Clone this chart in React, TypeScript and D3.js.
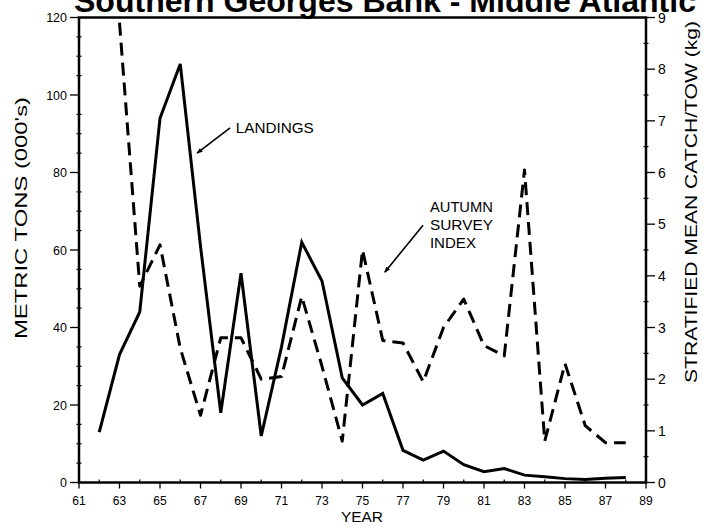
import React from "react";
import * as d3 from "d3";

// Landings (thousands of metric tons), left axis
const landingYears = [62, 63, 64, 65, 66, 67, 68, 69, 70, 71, 72, 73, 74, 75, 76, 77, 78, 79, 80, 81, 82, 83, 84, 85, 86, 87, 88];
const landings = [13, 33, 44, 94, 108, 61, 18, 54, 12, 35, 62, 52, 27, 20, 23, 8.3, 5.8, 8.1, 4.6, 2.8, 3.6, 1.9, 1.5, 1.0, 0.8, 1.1, 1.3];

// Autumn survey index (stratified mean catch/tow, kg), right axis
const surveyYears = [63, 64, 65, 66, 67, 68, 69, 70, 71, 72, 73, 74, 75, 76, 77, 78, 79, 80, 81, 82, 83, 84, 85, 86, 87, 88];
const surveyIndex = [8.9, 3.8, 4.6, 2.6, 1.3, 2.8, 2.8, 2.0, 2.05, 3.6, 2.25, 0.8, 4.5, 2.75, 2.7, 1.95, 3.0, 3.55, 2.65, 2.45, 6.05, 0.8, 2.3, 1.1, 0.77, 0.77];

const yearTicks = [61, 63, 65, 67, 69, 71, 73, 75, 77, 79, 81, 83, 85, 87, 89];
const tonTicks = [0, 20, 40, 60, 80, 100, 120];
const kgTicks = [0, 1, 2, 3, 4, 5, 6, 7, 8, 9];

const W = 703;
const H = 527;
const left = 79;
const right = 646;
const top = 17.5;
const bottom = 482.5;

const FONT = "'Liberation Sans', Arial, sans-serif";

export default function App() {
  const x = d3.scaleLinear().domain([61, 89]).range([left, right]);
  const yL = d3.scaleLinear().domain([0, 120]).range([bottom, top]);
  const yR = d3.scaleLinear().domain([0, 9]).range([bottom, top]);

  const landLine = d3
    .line<number>()
    .x((_, i) => x(landingYears[i]))
    .y((d) => yL(d));
  const surveyLine = d3
    .line<number>()
    .x((_, i) => x(surveyYears[i]))
    .y((d) => yR(d));

  const minorTons = d3.range(5, 120, 5).filter((v) => v % 20 !== 0);
  const minorKg = d3.range(0.5, 9, 0.5).filter((v) => v % 1 !== 0);
  const minorYears = d3.range(62, 89, 2);

  return (
    <svg
      width={W}
      height={H}
      style={{ position: "absolute", left: 0, top: 0, background: "#fff" }}
      fontFamily={FONT}
    >
      <defs>
        <marker id="arrow" viewBox="0 0 10 10" refX="9" refY="5" markerWidth="6" markerHeight="6" orient="auto" markerUnits="userSpaceOnUse">
          <path d="M0,1 L10,5 L0,9 Z" fill="#000" />
        </marker>
      </defs>

      {/* title, partly above the page edge */}
      <text x={385} y={12} textAnchor="middle" fontSize={31} fontWeight="bold" textLength={622} lengthAdjust="spacingAndGlyphs">
        Southern Georges Bank - Middle Atlantic
      </text>

      {/* frame */}
      <rect x={left} y={top} width={right - left} height={bottom - top} fill="none" stroke="#000" strokeWidth={2.5} />

      {/* left axis ticks */}
      {tonTicks.map((t) => (
        <g key={"lt" + t}>
          <line x1={left - 9} x2={left} y1={yL(t)} y2={yL(t)} stroke="#000" strokeWidth={1.3} />
          <text x={left - 12} y={yL(t) + 4.5} textAnchor="end" fontSize={12.5}>
            {t}
          </text>
        </g>
      ))}
      {minorTons.map((t) => (
        <line key={"lm" + t} x1={left - 2.5} x2={left + 2.5} y1={yL(t)} y2={yL(t)} stroke="#000" strokeWidth={1.2} />
      ))}

      {/* right axis ticks */}
      {kgTicks.map((t) => (
        <g key={"rt" + t}>
          <line x1={right} x2={right + 9} y1={yR(t)} y2={yR(t)} stroke="#000" strokeWidth={1.3} />
          <text x={right + 12} y={yR(t) + 5} textAnchor="start" fontSize={14}>
            {t}
          </text>
        </g>
      ))}
      {minorKg.map((t) => (
        <line key={"rm" + t} x1={right - 2.5} x2={right + 2.5} y1={yR(t)} y2={yR(t)} stroke="#000" strokeWidth={1.2} />
      ))}

      {/* x axis ticks */}
      {yearTicks.map((t) => (
        <g key={"xt" + t}>
          <line x1={x(t)} x2={x(t)} y1={bottom} y2={bottom + 6} stroke="#000" strokeWidth={1.3} />
          <text x={x(t)} y={bottom + 22} textAnchor="middle" fontSize={12}>
            {t}
          </text>
        </g>
      ))}
      {minorYears.map((t) => (
        <line key={"xm" + t} x1={x(t)} x2={x(t)} y1={bottom} y2={bottom - 3} stroke="#000" strokeWidth={1.2} />
      ))}

      {/* axis titles */}
      <text x={362} y={522} textAnchor="middle" fontSize={15} textLength={42} lengthAdjust="spacingAndGlyphs">
        YEAR
      </text>
      <text
        transform={`translate(27,${(97 + 339) / 2}) rotate(-90)`}
        textAnchor="middle"
        fontSize={16}
        textLength={242}
        lengthAdjust="spacingAndGlyphs"
      >
        METRIC TONS (000's)
      </text>
      <text
        transform={`translate(697,${(20 + 384) / 2}) rotate(-90)`}
        textAnchor="middle"
        fontSize={17}
        textLength={362}
        lengthAdjust="spacingAndGlyphs"
      >
        STRATIFIED MEAN CATCH/TOW (kg)
      </text>

      {/* series */}
      <path d={surveyLine(surveyIndex) ?? ""} fill="none" stroke="#000" strokeWidth={3} strokeDasharray="13 7" strokeLinejoin="round" />
      <path d={landLine(landings) ?? ""} fill="none" stroke="#000" strokeWidth={3} strokeLinejoin="miter" />

      {/* annotations */}
      <line x1={x(68.46)} y1={yL(91.5)} x2={x(66.83)} y2={yL(85)} stroke="#000" strokeWidth={1.6} markerEnd="url(#arrow)" />
      <text x={x(68.74)} y={yL(90.3)} fontSize={15} textLength={78} lengthAdjust="spacingAndGlyphs">
        LANDINGS
      </text>

      <line x1={x(77.99)} y1={yR(4.98)} x2={x(76.1)} y2={yR(4.07)} stroke="#000" strokeWidth={1.6} markerEnd="url(#arrow)" />
      <text x={x(78.33)} y={yR(5.23)} fontSize={15} textLength={63} lengthAdjust="spacingAndGlyphs">
        AUTUMN
      </text>
      <text x={x(78.33)} y={yR(4.88)} fontSize={15} textLength={63} lengthAdjust="spacingAndGlyphs">
        SURVEY
      </text>
      <text x={x(78.33)} y={yR(4.53)} fontSize={15} textLength={46} lengthAdjust="spacingAndGlyphs">
        INDEX
      </text>
    </svg>
  );
}
